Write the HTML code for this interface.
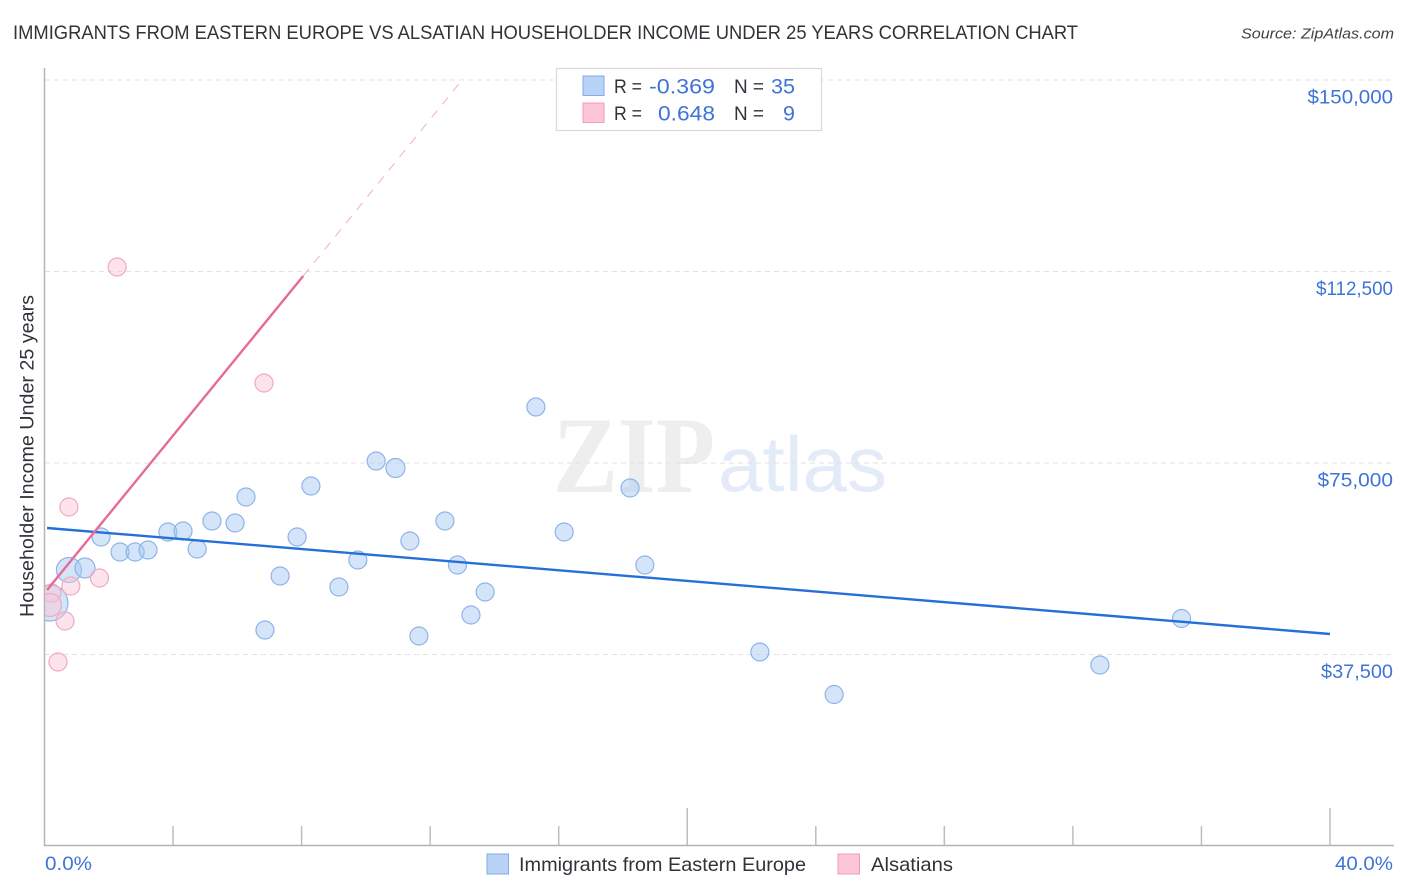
<!DOCTYPE html>
<html lang="en">
<head>
<meta charset="utf-8">
<title>Immigrants from Eastern Europe vs Alsatian Householder Income Under 25 Years Correlation Chart</title>
<style>
html,body{margin:0;padding:0;background:#fff;width:1406px;height:892px;overflow:hidden}
svg{display:block;font-family:"Liberation Sans",sans-serif}
</style>
</head>
<body>
<svg id="chart" xmlns="http://www.w3.org/2000/svg" width="1406" height="892" viewBox="0 0 1406 892">
  <defs>
    <clipPath id="plot-clip"><rect x="45" y="60" width="1360" height="790"/></clipPath>
  </defs>
  <rect x="0" y="0" width="1406" height="892" fill="#ffffff"/>
  <text x="13" y="39" font-size="19.5" fill="#2f343a" textLength="1065" lengthAdjust="spacingAndGlyphs">IMMIGRANTS FROM EASTERN EUROPE VS ALSATIAN HOUSEHOLDER INCOME UNDER 25 YEARS CORRELATION CHART</text>
  <text x="1394" y="38.5" font-size="15" font-style="italic" fill="#3c4248" text-anchor="end" textLength="153" lengthAdjust="spacingAndGlyphs">Source: ZipAtlas.com</text>

  <g>
    <text x="553" y="492" font-family="'Liberation Serif',serif" font-weight="bold" font-size="109" fill="#eeeeee" textLength="162" lengthAdjust="spacingAndGlyphs">ZIP</text>
    <text x="718" y="491" font-size="78" fill="#e3ebf8" textLength="169" lengthAdjust="spacingAndGlyphs">atlas</text>
  </g>

  <g id="grid"></g>
  <g id="axes"></g>
  <g id="ylabels"></g>
  <g id="blue-points" clip-path="url(#plot-clip)"></g>
  <g id="pink-points" clip-path="url(#plot-clip)"></g>
  <g id="trends"></g>

  <text transform="translate(33.5,456) rotate(-90)" font-size="19" fill="#2f343a" text-anchor="middle" textLength="322" lengthAdjust="spacingAndGlyphs">Householder Income Under 25 years</text>
  <text x="45" y="870" font-size="19.5" fill="#3f74d6" textLength="47" lengthAdjust="spacingAndGlyphs">0.0%</text>
  <text x="1393" y="870" font-size="19.5" fill="#3f74d6" text-anchor="end" textLength="58" lengthAdjust="spacingAndGlyphs">40.0%</text>

  <g>
    <rect x="556.5" y="68.5" width="265" height="62" fill="#ffffff" stroke="#d9d9d9" stroke-width="1.2"/>
    <rect x="583" y="76" width="21" height="19.5" fill="#b8d3f6" stroke="#7fabe6" stroke-width="1"/>
    <rect x="583" y="103" width="21" height="19.5" fill="#fcc5d8" stroke="#f09bb8" stroke-width="1"/>
    <text x="614" y="93" font-size="19" fill="#2f343a" textLength="28" lengthAdjust="spacingAndGlyphs">R =</text>
    <text x="715" y="93.5" font-size="21.5" fill="#3f74d6" text-anchor="end" textLength="66" lengthAdjust="spacingAndGlyphs">-0.369</text>
    <text x="734" y="93" font-size="19" fill="#2f343a" textLength="30" lengthAdjust="spacingAndGlyphs">N =</text>
    <text x="795" y="93.5" font-size="21.5" fill="#3f74d6" text-anchor="end" textLength="24" lengthAdjust="spacingAndGlyphs">35</text>
    <text x="614" y="120" font-size="19" fill="#2f343a" textLength="28" lengthAdjust="spacingAndGlyphs">R =</text>
    <text x="715" y="120.5" font-size="21.5" fill="#3f74d6" text-anchor="end" textLength="57" lengthAdjust="spacingAndGlyphs">0.648</text>
    <text x="734" y="120" font-size="19" fill="#2f343a" textLength="30" lengthAdjust="spacingAndGlyphs">N =</text>
    <text x="795" y="120.5" font-size="21.5" fill="#3f74d6" text-anchor="end">9</text>
  </g>

  <g>
    <rect x="487" y="854" width="21.5" height="20" fill="#b8d3f6" stroke="#7fabe6" stroke-width="1"/>
    <text x="519" y="871" font-size="19.5" fill="#2f343a" textLength="287" lengthAdjust="spacingAndGlyphs">Immigrants from Eastern Europe</text>
    <rect x="838" y="854" width="21.5" height="20" fill="#fcc5d8" stroke="#f09bb8" stroke-width="1"/>
    <text x="871" y="871" font-size="19.5" fill="#2f343a" textLength="82" lengthAdjust="spacingAndGlyphs">Alsatians</text>
  </g>
</svg>
<script>
const yTicks = [150000, 112500, 75000, 37500];
const yTickLabels = ['$150,000', '$112,500', '$75,000', '$37,500'];
const xTicks = [0, 4, 8, 12, 16, 20, 24, 28, 32, 36, 40];
const xMajorTicks = [20, 40];

const blueX = [0.17, 0.76, 1.26, 1.76, 2.35, 2.82, 3.22, 3.84, 4.31, 4.75, 5.21, 5.93, 6.27, 6.86, 7.33, 7.86, 8.29, 9.16, 9.75, 10.32, 10.92, 11.37, 11.65, 12.46, 12.85, 13.27, 13.71, 15.29, 16.17, 18.22, 18.68, 22.26, 24.57, 32.84, 35.38];
const blueY = [47585, 54047, 54438, 60509, 57572, 57572, 57963, 61488, 61684, 58159, 63642, 63250, 68342, 42298, 52872, 60509, 70496, 50718, 56005, 75391, 74020, 59725, 41123, 63642, 55026, 45235, 49739, 85965, 61488, 70104, 55026, 37990, 29667, 35444, 44550];
const blueWeight = [18, 12.5, 10, 9, 9, 9, 9, 9, 9, 9, 9, 9, 9, 9, 9, 9, 9, 9, 9, 9, 9.5, 9, 9, 9, 9, 9, 9, 9, 9, 9, 9, 9, 9, 9, 9];

const pinkX = [2.26, 6.83, 0.76, 1.71, 0.82, 0.64, 0.42, 0.23, 0.17];
const pinkY = [113380, 90665, 66384, 52480, 50914, 44060, 36031, 49543, 47193];
const pinkWeight = [9, 9, 9, 9, 9, 9, 9, 9, 11.5];

const blueTrendX = [0.08, 40];
const blueTrendY = [62271, 41514];
const pinkSolidX = [0.08, 8.05];
const pinkSolidY = [50130, 111620];
const pinkDashX = [8.05, 12.99];
const pinkDashY = [111620, 150000];

const NS = 'http://www.w3.org/2000/svg';
function xScale(v) { return 44.5 + v * 1285.5 / 40; }
function yScale(v) { return 654.5 - (v - 37500) * 191.5 / 37500; }
function labelWidth(s) {
  let w = 0;
  for (const ch of s) {
    if (ch === '1') w += 6.5;
    else if (ch === '0') w += 13;
    else if (ch === ',') w += 5;
    else if (ch === '3' || ch === '7') w += 9.5;
    else w += 11;
  }
  return w;
}
function make(tag, attrs, parent) {
  const el = document.createElementNS(NS, tag);
  for (const k in attrs) el.setAttribute(k, attrs[k]);
  parent.appendChild(el);
  return el;
}

const gridG = document.getElementById('grid');
const axesG = document.getElementById('axes');
const labelG = document.getElementById('ylabels');
const blueG = document.getElementById('blue-points');
const pinkG = document.getElementById('pink-points');
const trendG = document.getElementById('trends');

yTicks.forEach(function (t, i) {
  const y = yScale(t);
  const line = make('line', {x1: 45, x2: 1394, y1: y, y2: y, stroke: '#e2e2e2', 'stroke-width': 1, 'stroke-dasharray': '5 4'}, gridG);
  
  
  const label = make('text', {x: 1393, y: y + 23.5, 'font-size': 19.5, fill: '#3f74d6', 'text-anchor': 'end', textLength: labelWidth(yTickLabels[i]), lengthAdjust: 'spacingAndGlyphs'}, labelG);
  
  
  label.textContent = yTickLabels[i];
});

const yAxis = make('line', {x1: 44.5, x2: 44.5, y1: 68, y2: 846, stroke: '#b4b4b4', 'stroke-width': 1.5}, axesG);


const xAxis = make('line', {x1: 44, x2: 1394, y1: 845.5, y2: 845.5, stroke: '#b4b4b4', 'stroke-width': 1.5}, axesG);


xTicks.forEach(function (t) {
  if (t === 0) return;
  const x = xScale(t);
  const top = xMajorTicks.indexOf(t) >= 0 ? 808 : 826;
  const tick = make('line', {x1: x, x2: x, y1: top, y2: 845, stroke: '#bdbdbd', 'stroke-width': 1.5}, axesG);
  
  
});

blueX.forEach(function (v, i) {
  const c = make('circle', {cx: xScale(v), cy: yScale(blueY[i]), r: blueWeight[i], fill: 'rgba(165,200,243,0.47)', stroke: '#8fb3e8', 'stroke-width': 1.2}, blueG);
  
  
});
pinkX.forEach(function (v, i) {
  const c = make('circle', {cx: xScale(v), cy: yScale(pinkY[i]), r: pinkWeight[i], fill: 'rgba(250,195,213,0.47)', stroke: '#f0a9c1', 'stroke-width': 1.2}, pinkG);
  
  
});

const blueLine = make('line', {x1: xScale(blueTrendX[0]), y1: yScale(blueTrendY[0]), x2: xScale(blueTrendX[1]), y2: yScale(blueTrendY[1]), stroke: '#2470d8', 'stroke-width': 2.4}, trendG);


const pinkLine = make('line', {x1: xScale(pinkSolidX[0]), y1: yScale(pinkSolidY[0]), x2: xScale(pinkSolidX[1]), y2: yScale(pinkSolidY[1]), stroke: '#e76a98', 'stroke-width': 2.4}, trendG);


const pinkDash = make('line', {x1: xScale(pinkDashX[0]), y1: yScale(pinkDashY[0]), x2: xScale(pinkDashX[1]), y2: yScale(pinkDashY[1]), stroke: '#eeb0c6', 'stroke-width': 1, 'stroke-dasharray': '9 8'}, trendG);


</script>
</body>
</html>
